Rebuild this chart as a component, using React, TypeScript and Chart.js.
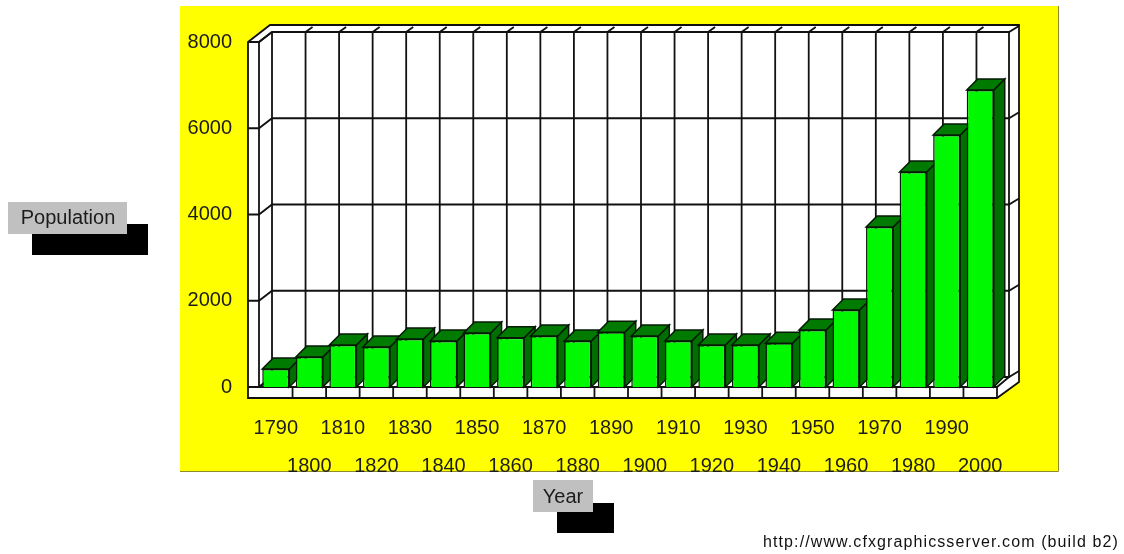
import React, { useEffect, useRef } from "react";
import { Chart, registerables } from "chart.js";

Chart.register(...registerables);

const years = [
  1790, 1800, 1810, 1820, 1830, 1840, 1850, 1860, 1870, 1880, 1890,
  1900, 1910, 1920, 1930, 1940, 1950, 1960, 1970, 1980, 1990, 2000,
];
const population = [
  417, 696, 974, 928, 1113, 1067, 1252, 1143, 1183, 1067, 1268,
  1183, 1067, 974, 974, 1013, 1322, 1786, 3710, 4986, 5844, 6887,
];
const yTicks = [0, 2000, 4000, 6000, 8000];

const FONT = '"Liberation Sans", Arial, sans-serif';
const INK = "#1c1c1c";
const DEPTH_X = 13;
const DEPTH_Y = 10;
const BAR_DEPTH_X = 11;
const BAR_DEPTH_Y = 11;

function polyline(ctx: CanvasRenderingContext2D, pts: number[][]) {
  ctx.beginPath();
  pts.forEach(([x, y], i) => (i ? ctx.lineTo(x, y) : ctx.moveTo(x, y)));
  ctx.stroke();
}

function polygon(ctx: CanvasRenderingContext2D, pts: number[][], fill: string) {
  ctx.beginPath();
  pts.forEach(([x, y], i) => (i ? ctx.lineTo(x, y) : ctx.moveTo(x, y)));
  ctx.closePath();
  ctx.fillStyle = fill;
  ctx.fill();
  ctx.stroke();
}

// Caption with an offset black block behind a grey plate.
function caption(
  ctx: CanvasRenderingContext2D,
  text: string,
  plate: number[],
  block: number[],
  cx: number,
  cy: number,
) {
  ctx.fillStyle = "#000000";
  ctx.fillRect(block[0], block[1], block[2], block[3]);
  ctx.fillStyle = "#c0c0c0";
  ctx.fillRect(plate[0], plate[1], plate[2], plate[3]);
  ctx.fillStyle = INK;
  ctx.font = `20px ${FONT}`;
  ctx.textAlign = "center";
  ctx.textBaseline = "middle";
  ctx.fillText(text, cx, cy);
}

// Yellow panel behind every other part of the chart.
const panelPlugin = {
  id: "panel",
  beforeDraw(chart: any) {
    const ctx = chart.ctx;
    ctx.save();
    ctx.fillStyle = "#ffffff";
    ctx.fillRect(0, 0, chart.width, chart.height);
    ctx.fillStyle = "#ffff00";
    ctx.fillRect(180, 6, 878, 465);
    ctx.strokeStyle = "#8c8c2a";
    ctx.lineWidth = 1;
    polyline(ctx, [[1058.5, 6], [1058.5, 471.5], [180, 471.5]]);
    ctx.restore();
  },
};

// Box walls, floor and grid of the 3D plot frame.
const framePlugin = {
  id: "frame",
  beforeDatasetsDraw(chart: any) {
    const { ctx, chartArea: a, scales } = chart;
    const { left, right, top, bottom } = a;
    const backL = left + DEPTH_X;
    const backR = right + DEPTH_X - 1;
    const outerL = left - 11;
    const outerR = right + 22;
    const outerB = bottom + 11;
    const outerT = top - 17;
    ctx.save();
    ctx.strokeStyle = "#111111";
    ctx.lineWidth = 1.8;
    polygon(
      ctx,
      [
        [outerL, top],
        [outerL + 22, outerT],
        [outerR, outerT],
        [outerR, outerB - 16],
        [right, outerB],
        [outerL, outerB],
      ],
      "#ffffff",
    );
    polyline(ctx, [[left, top], [outerL, top]]);
    polyline(ctx, [[left, bottom], [left, top], [backL, top - DEPTH_Y]]);
    polyline(ctx, [[backL, top - DEPTH_Y], [backR, top - DEPTH_Y], [backR, bottom - DEPTH_Y], [backL, bottom - DEPTH_Y], [backL, top - DEPTH_Y]]);
    polyline(ctx, [[left, bottom], [backL, bottom - DEPTH_Y]]);
    polyline(ctx, [[left, bottom], [right, bottom], [backR, bottom - DEPTH_Y]]);

    yTicks.forEach((v) => {
      const y = scales.y.getPixelForValue(v);
      polyline(ctx, [[outerL, y], [left, y], [backL, y - DEPTH_Y], [backR, y - DEPTH_Y], [outerR, y - DEPTH_Y - 6]]);
    });

    const step = (right - left) / years.length;
    years.forEach((_, i) => {
      const x = left + step * (i + 1);
      if (i < years.length - 1) {
        polyline(ctx, [[x + DEPTH_X, top - DEPTH_Y], [x + DEPTH_X, bottom - DEPTH_Y]]);
        polyline(ctx, [[x + DEPTH_X, top - DEPTH_Y], [x + DEPTH_X + 7, top - DEPTH_Y - 5]]);
      }
      polyline(ctx, [[x, bottom], [x, outerB]]);
    });
    ctx.restore();
  },
};

// Side and top faces of each column, behind the fronts that Chart.js draws.
const columnDepthPlugin = {
  id: "columnDepth",
  beforeDatasetDraw(chart: any) {
    const { ctx } = chart;
    ctx.save();
    ctx.strokeStyle = "#041a04";
    ctx.lineWidth = 1.5;
    chart.getDatasetMeta(0).data.forEach((bar: any) => {
      const { x, y, base, width } = bar.getProps(["x", "y", "base", "width"], true);
      const l = x - width / 2;
      const r = x + width / 2;
      polygon(ctx, [[r, y], [r + BAR_DEPTH_X, y - BAR_DEPTH_Y], [r + BAR_DEPTH_X, base - BAR_DEPTH_Y], [r, base]], "#006e00");
      polygon(ctx, [[l, y], [l + BAR_DEPTH_X, y - BAR_DEPTH_Y], [r + BAR_DEPTH_X, y - BAR_DEPTH_Y], [r, y]], "#007a00");
    });
    ctx.restore();
  },
};

// Axis captions and the build credit.
const captionsPlugin = {
  id: "captions",
  afterDraw(chart: any) {
    const ctx = chart.ctx;
    ctx.save();
    caption(ctx, "Population", [8, 202, 119, 32], [32, 224, 116, 31], 68, 218);
    caption(ctx, "Year", [533, 480, 60, 32], [557, 503, 57, 30], 563, 497);
    ctx.fillStyle = "#111111";
    ctx.font = `16px ${FONT}`;
    (ctx as any).letterSpacing = "1.1px";
    ctx.textAlign = "left";
    ctx.textBaseline = "middle";
    ctx.fillText("http://www.cfxgraphicsserver.com (build b2)", 763, 543);
    ctx.restore();
  },
};

export default function App() {
  const canvasRef = useRef<HTMLCanvasElement>(null);

  useEffect(() => {
    const chart = new Chart(canvasRef.current!, {
      type: "bar",
      data: {
        labels: years.map(String),
        datasets: [
          {
            label: "Population",
            data: population,
            backgroundColor: "#00f800",
            borderColor: "#041a04",
            borderWidth: 1.5,
            categoryPercentage: 1,
            barPercentage: 0.806,
          },
        ],
      },
      options: {
        responsive: false,
        animation: false,
        devicePixelRatio: 1,
        layout: { padding: { top: 42, right: 127, bottom: 0, left: 0 } },
        plugins: { legend: { display: false }, title: { display: false }, tooltip: { enabled: false } },
        scales: {
          x: {
            border: { display: false },
            grid: { display: false, drawTicks: false },
            afterFit(scale: any) {
              scale.height = 167;
            },
            ticks: {
              autoSkip: false,
              maxRotation: 0,
              minRotation: 0,
              padding: 22,
              color: INK,
              font: { family: FONT, size: 20, lineHeight: "38.5px" },
              // Alternate decades sit on a second row.
              callback(_v: any, i: number) {
                return i % 2 === 0 ? [String(years[i]), ""] : ["", String(years[i])];
              },
            },
          },
          y: {
            min: 0,
            max: 8000,
            border: { display: false },
            grid: { display: false, drawTicks: false },
            afterFit(scale: any) {
              scale.width = 259;
            },
            afterBuildTicks(scale: any) {
              scale.ticks = yTicks.map((value) => ({ value }));
            },
            ticks: {
              padding: 27,
              color: INK,
              font: { family: FONT, size: 20 },
              callback: (v: any) => String(v),
            },
          },
        },
      },
      plugins: [panelPlugin, framePlugin, columnDepthPlugin, captionsPlugin],
    } as any);
    return () => chart.destroy();
  }, []);

  return (
    <canvas
      ref={canvasRef}
      width={1124}
      height={554}
      style={{ position: "absolute", left: 0, top: 0, display: "block" }}
    />
  );
}
